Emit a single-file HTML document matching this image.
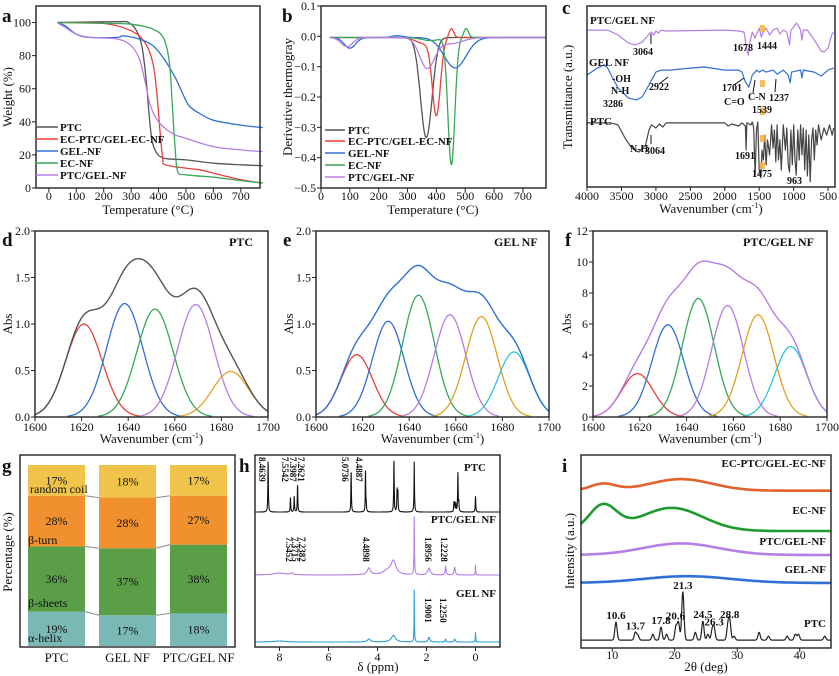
<!DOCTYPE html>
<html><head><meta charset="utf-8"><style>
html,body{margin:0;padding:0;background:#fff;}
svg{display:block;font-family:"Liberation Serif",serif;}
</style></head><body>
<svg id="fig" width="839" height="676" viewBox="0 0 839 676"></svg>
<script>
// ===== Panel a: TGA data
const tgaNames=['PTC','EC-PTC/GEL-EC-NF','GEL-NF','EC-NF','PTC/GEL-NF'];
const tgaColors=['#555555','#e8413c','#2f6fd6','#3aa65a','#b47ee5'];
const tgaTemp=[
 [30,250,290,320,340,355,365,375,390,420,500,600,700,780],
 [30,200,300,350,380,395,405,415,425,500,550,600,700,780],
 [30,60,100,150,250,270,330,380,420,460,480,510,550,600,700,780],
 [30,200,300,380,420,440,450,460,470,500,600,700,780],
 [30,60,100,150,250,300,330,350,370,400,450,500,600,700,780]];
const tgaWeight=[
 [100,100.5,100,95,85,65,45,30,22,18,17,15,14,13.5],
 [100,99.5,95,88,75,55,35,18,14,12,11,9,5,3],
 [100,98,93,91,91,92,90,86,78,67,60,50,45,41,38,36.5],
 [100,99.5,99,96,90,75,50,25,10,8,6.5,4.5,3],
 [100,97,93,91,90,86,78,65,50,40,33,30,25,23,22]];
const tgaXTicks=[0,100,200,300,400,500,600,700];
const tgaYTicks=[0,20,40,60,80,100];
// ===== Panel b: DTG peaks (center, amplitude, width)
const dtgCenters=[[365],[360,400,452],[100,265,465],[380,452,503],[90,368,450]];
const dtgAmps=[[-0.33],[-0.02,-0.25,0.03],[-0.035,0.006,-0.1],[-0.01,-0.42,0.03],[-0.03,-0.1,-0.02]];
const dtgWidths=[[20],[30,14,8],[20,20,38],[30,12,8],[20,26,40]];
const dtgYTicks=[0.1,0.0,-0.1,-0.2,-0.3,-0.4,-0.5];
const dtgYLabels=['0.1','0.0','−0.1','−0.2','−0.3','−0.4','−0.5'];
// ===== Panel c: FTIR
const ftirWave=[
 [4000,3700,3550,3400,3300,3200,3100,3064,3030,3000,2960,2930,2850,2000,1800,1720,1680,1660,1630,1600,1560,1540,1500,1470,1444,1400,1350,1300,1240,1200,1150,1100,1060,1040,1000,960,930,900,880,860,800,700,600,560,500,450,420],
 [4000,3850,3750,3700,3650,3550,3400,3286,3200,3100,3000,2922,2800,2500,2300,2000,1800,1750,1701,1650,1600,1560,1539,1500,1450,1400,1300,1237,1150,1080,1050,1030,900,880,860,700,600,500,420],
 [4000,3650,3550,3450,3350,3250,3150,3100,3064,3000,2950,2900,2850,2000,1950,1900,1800,1750,1700,1691,1680,1620,1600,1580,1560,1540,1520,1500,1475,1460,1440,1420,1400,1380,1350,1320,1300,1280,1260,1240,1220,1200,1180,1150,1120,1100,1080,1060,1040,1020,1000,980,963,940,920,900,880,860,840,820,800,780,760,740,720,700,680,660,640,600,560,520,480,440,420]];
const ftirT=[
 [86.7,86.7,84,79.6,78.5,80,84.5,85.6,84,86.2,85,86.7,86.2,86.7,86.2,85.6,75.7,72.9,81.2,85.6,82.3,84.5,87.8,82.9,85.6,87.8,84,86.7,87.8,84.5,86.7,85.6,78.5,86.7,88.4,90.6,89,86.7,81.2,86.7,86.7,81.2,75.1,74.6,76.8,84,85.6],
 [61.9,65.7,67.4,65.7,61.9,54.7,49.2,48.1,49.7,56.4,63.5,64.6,64.6,65.7,66.3,64.6,64.6,63.5,58,55.2,61.9,63.5,64.6,63.5,64.6,63.5,64.6,62.4,64.6,61.9,57.5,63.5,64.6,60.2,64.6,63.5,61.3,64.6,65.7],
 [35.4,35.4,34.3,27.1,21.5,19.3,23.2,31.5,34.3,32.6,34.8,33.1,35.4,35.4,33.7,34.8,33.7,35.4,33.7,20.4,35.4,34.3,35.9,32.6,6.1,31.5,35.9,9.4,5,20.4,14.9,28.7,12.2,26,17.7,34.3,21.5,31.5,13.8,34.3,14.9,26,9.4,34.3,20.4,32.6,12.2,8.3,31.5,12.2,34.3,14.9,6.6,31.5,14.9,34.3,17.7,32.6,9.4,31.5,6.1,28.7,2.8,26,32.6,14.9,31.5,23.2,34.3,26,32.6,28.7,34.3,28.7,32.6]];
const ftirColors=['#b47ee5','#2f6fd6','#444444'];
const ftirXTicks=[4000,3500,3000,2500,2000,1500,1000,500];
// ===== Panels d/e/f: deconvolution gaussians
const fitXTicks=[1600,1620,1640,1660,1680,1700];
const dCenters=[1621,1638.5,1651.5,1669,1684];
const dHeights=[1.0,1.22,1.16,1.21,0.49];
const dColors=['#e8413c','#2f6fd6','#3aa65a','#b47ee5','#e0a21e'];
const eCenters=[1617.5,1631,1644,1657.5,1671,1685];
const eHeights=[0.67,1.03,1.31,1.1,1.08,0.7];
const fCenters=[1619,1632,1645,1657.5,1670.5,1684.5];
const fHeights=[2.8,5.95,7.65,7.2,6.6,4.55];
const efColors=['#e8413c','#2f6fd6','#3aa65a','#b47ee5','#e0a21e','#2ec4d6'];
const dYTicks=[0,0.5,1.0,1.5,2.0];
const fYTicks=[0,2,4,6,8,10,12];
// ===== Panel g: secondary structure
const secCategories=['PTC','GEL NF','PTC/GEL NF'];
const secHelix=[19,17,18];
const secSheets=[36,37,38];
const secTurn=[28,28,27];
const secCoil=[17,18,17];
// ===== Panel h: NMR
const nmrPtcShift=[8.464,7.554,7.399,7.262,5.074,4.489,4.46,3.33,3.2,3.17,2.5,0.88,0.85,0.8,0.72,0.68,0];
const nmrPtcHeight=[26,7.5,8,14,21,21,3,27,11,10,26,4.5,4.5,4,20,5,8];
const nmrMixShift=[8.0,7.5,4.35,3.6,3.35,2.5,1.9,1.22,0.85,0];
const nmrMixHeight=[1,1,3.5,2,7,30,3.5,4.5,4,5];
const nmrMixWidth=[0.3,0.05,0.08,0.2,0.12,0.012,0.06,0.02,0.03,0.01];
const nmrGelShift=[8.0,4.35,3.35,2.5,1.9,1.22,0.85,0];
const nmrGelHeight=[0.5,1.5,3.5,27,2.5,1.5,1.5,5];
const nmrGelWidth=[0.3,0.08,0.1,0.01,0.04,0.02,0.03,0.01];
const nmrXTicks=[8,6,4,2,0];
// ===== Panel i: XRD
const xrdPtcPeaks=[10.6,13.7,14.1,16.5,17.8,18.7,20.2,20.6,21.3,23.3,24.5,25.3,26.0,26.3,28.5,28.8,29.5,33.5,35,38,39.3,39.8,44];
const xrdPtcHeights=[9.3,4,2.5,3,6.7,3,7,9,25,4,9.8,3,5,6,7,9.8,2,4,2,2,3,3,2];
const xrdBase=[81.5,60.6,48.2,33.7];
const xrdHumpCenters=[[8.5,21],[8.5,19.5],[21],[22]];
const xrdHumpHeights=[[3.5,6],[13,12],[6],[3.5]];
const xrdHumpWidths=[[2,5],[2.2,5],[6],[7]];
const xrdColors=['#e2622c','#1e9a2c','#b47ee5','#2f6fd6'];
const xrdXTicks=[10,20,30,40];

const NS='http://www.w3.org/2000/svg';
const svg=document.getElementById('fig');
function el(tag,attrs,parent){const e=document.createElementNS(NS,tag);for(const k in attrs)e.setAttribute(k,attrs[k]);(parent||svg).appendChild(e);return e;}
function txt(x,y,s,size,anchor,weight,parent){const t=el('text',{x:x,y:y,'font-size':size,'text-anchor':anchor||'start','font-weight':weight||'normal',fill:'#111'},parent);t.textContent=s;return t;}
function lin(d0,d1,r0,r1){return v=>r0+(v-d0)/(d1-d0)*(r1-r0);}
function smooth(pts){let d='M'+pts[0][0].toFixed(1)+','+pts[0][1].toFixed(1);for(let i=0;i<pts.length-1;i++){const p0=pts[i-1]||pts[i],p1=pts[i],p2=pts[i+1],p3=pts[i+2]||p2;d+=' C'+(p1[0]+(p2[0]-p0[0])/6).toFixed(1)+','+(p1[1]+(p2[1]-p0[1])/6).toFixed(1)+' '+(p2[0]-(p3[0]-p1[0])/6).toFixed(1)+','+(p2[1]-(p3[1]-p1[1])/6).toFixed(1)+' '+p2[0].toFixed(1)+','+p2[1].toFixed(1);}return d;}
function poly(pts){return 'M'+pts.map(p=>p[0].toFixed(1)+','+p[1].toFixed(1)).join(' L');}
function gauss(x,c,h,s){return h*Math.exp(-(x-c)*(x-c)/(2*s*s));}
function lor(x,c,h,w){return h/(1+((x-c)/w)*((x-c)/w));}
function frame(P,name){const r=el('rect',{x:P.L,y:P.T,width:P.R-P.L,height:P.B-P.T,fill:'none',stroke:'#222','stroke-width':1.4});}
function xticks(P,vals,sx,labels,ly){vals.forEach((v,i)=>{const x=sx(v);el('line',{x1:x,x2:x,y1:P.B,y2:P.B+4,stroke:'#222'});const t=txt(x,ly,labels?labels[i]:String(v),12,'middle');});}
function yticks(P,vals,sy,labels){vals.forEach((v,i)=>{const y=sy(v);el('line',{x1:P.L-4,x2:P.L,y1:y,y2:y,stroke:'#222'});const t=txt(P.L-5,y+4,labels?labels[i]:String(v),12,'end');});}
function ytitle(x,y,s){const t=txt(x,y,s,13,'middle');t.setAttribute('transform','rotate(-90 '+x+' '+y+')');return t;}
function xtitle(x,y,s){const t=txt(x,y,s,13,'middle');return t;}
function wnTitle(x,y){const t=xtitle(x,y,'Wavenumber (cm');const s=el('tspan',{dy:-5,'font-size':8},t);s.textContent='-1';const s2=el('tspan',{dy:5},t);s2.textContent=')';}
function letter(x,y,s){const t=txt(x,y,s,19,'start','bold');}
function curve(d,color,w,name){const p=el('path',{d:d,fill:'none',stroke:color,'stroke-width':w||1.3,'stroke-linejoin':'round'});return p;}

// ===== Panel a
const A={L:36,R:260,T:6,B:188};
const ax=lin(-47,770,A.L,A.R), ay=lin(0,110,A.B,A.T);
letter(2,22,'a');
tgaNames.forEach((n,i)=>{curve(smooth(tgaTemp[i].map((t,j)=>[ax(t),ay(tgaWeight[i][j])])),tgaColors[i],1.3,'tga-curve-'+n);});
frame(A,'tga-plot-area');
xticks(A,tgaXTicks,ax,null,200);yticks(A,tgaYTicks,ay);
ytitle(12,97,'Weight (%)');xtitle(148,214,'Temperature (°C)');
[131,143,155,167,179].forEach((y,i)=>{el('line',{x1:36,x2:58,y1:y-4,y2:y-4,stroke:tgaColors[i],'stroke-width':1.5});const t=txt(60,y,tgaNames[i],11,'start','bold');});

// ===== Panel b
const B={L:321,R:546,T:6,B:188};
const bx=lin(0,780,B.L,B.R), by=lin(-0.5,0.1,B.B,B.T);
letter(282,22,'b');
tgaNames.forEach((n,i)=>{const pts=[];for(let t=30;t<=780;t+=3){let v=-0.004;dtgCenters[i].forEach((c,k)=>{v+=gauss(t,c,dtgAmps[i][k],dtgWidths[i][k]);});pts.push([bx(t),by(v)]);}curve(poly(pts),tgaColors[i],1.3,'dtg-curve-'+n);});
frame(B,'dtg-plot-area');
xticks(B,tgaXTicks,bx,null,200);yticks(B,dtgYTicks,by,dtgYLabels);
ytitle(292,97,'Derivative thermogray');xtitle(433,214,'Temperature (°C)');
[134,145,157,169,181].forEach((y,i)=>{el('line',{x1:325,x2:345,y1:y-4,y2:y-4,stroke:tgaColors[i],'stroke-width':1.5});const t=txt(348,y,tgaNames[i],11,'start','bold');});

// ===== Panel c
const C={L:587,R:835,T:6,B:187};
const cx=lin(4000,400,C.L,C.R), cy=lin(0,100,C.B,C.T);
letter(562,14,'c');
['ptc-gel-nf','gel-nf','ptc'].forEach((n,i)=>{curve(poly(ftirWave[i].map((w,j)=>[cx(w),cy(ftirT[i][j])])),ftirColors[i],1.2,'ftir-curve-'+n);});
[25,80,108,135,162].forEach(y=>{el('rect',{x:cx(1460)-2,y:y,width:5,height:7,fill:'#f5b041',opacity:0.85});});
frame(C,'ftir-plot-area');
xticks(C,ftirXTicks,cx,null,200);
ytitle(572,97,'Transmittance (a.u.)');wnTitle(711,213);
[[590,24,'PTC/GEL NF',11],[589,66,'GEL NF',11],[590,125,'PTC',11],[633,55,'3064',10],[733,51,'1678',10],[757,49,'1444',10],[612,82,'-OH',10],[611,94,'N-H',10],[603,107,'3286',10],[649,90,'2922',10],[722,91,'1701',10],[724,105,'C=O',10],[748,100,'C-N',10],[752,113,'1539',10],[769,101,'1237',10],[630,152,'N-H',10],[645,154,'3064',10],[735,159,'1691',10],[752,177,'1475',10],[787,184,'963',10]].forEach(a=>{const t=txt(a[0],a[1],a[2],a[3],'start','bold');});
[[651,44,651,34],[659,84,668,77],[734,85,744,78],[753,93,755,80],[775,92,776,79],[651,144,651,135]].forEach(l=>{el('line',{x1:l[0],y1:l[1],x2:l[2],y2:l[3],stroke:'#111','stroke-width':1});});

// ===== Panels d/e/f
function fitPanel(P,centers,heights,colors,sumColor,ymax,yt,tag,label,lx,sigma){
 const sx=lin(1600,1700,P.L,P.R), sy=lin(0,ymax,P.B,P.T);
 centers.forEach((c,k)=>{const pts=[];for(let x=1600;x<=1700;x+=0.5){const v=gauss(x,c,heights[k],sigma);if(v>0.004*ymax||Math.abs(x-c)<3*sigma)pts.push([sx(x),sy(v)]);}curve(poly(pts),colors[k],1.3,tag+'-component-'+k);});
 const pts=[];for(let x=1600;x<=1700;x+=0.5){let v=0;centers.forEach((c,k)=>{v+=gauss(x,c,heights[k],sigma);});pts.push([sx(x),sy(v)]);}
 curve(poly(pts),sumColor,1.4,tag+'-sum-curve');
 frame(P,tag+'-plot-area');xticks(P,fitXTicks,sx,null,431);yticks(P,yt,sy,yt.map(v=>ymax<5?v.toFixed(1):String(v)));
 const t=txt(lx,246,label,12,'start','bold');
 wnTitle((P.L+P.R)/2,443);
}
const D={L:35,R:268,T:231,B:417},E={L:316,R:549,T:231,B:417},F={L:593,R:827,T:231,B:417};
letter(2,246,'d');letter(283,246,'e');letter(565,246,'f');
fitPanel(D,dCenters,dHeights,dColors,'#555555',2,dYTicks,'fit-ptc','PTC',229,7.8);
fitPanel(E,eCenters,eHeights,efColors,'#2f6fd6',2,dYTicks,'fit-gel','GEL NF',494,6.8);
fitPanel(F,fCenters,fHeights,efColors,'#b47ee5',12,fYTicks,'fit-ptcgel','PTC/GEL NF',743,6.8);
ytitle(12,324,'Abs');ytitle(293,324,'Abs');ytitle(571,324,'Abs');

// ===== Panel g
const G={L:20,R:235,T:455,B:647};
letter(2,472,'g');
frame(G,'secondary-structure-plot-area');
const gy=lin(0,100,646,465);
const barX=[28,99,170], barW=57;
const segColors=['#79b8b5','#5a9e48','#f0902e','#f0c44a'];
const segs=[secHelix,secSheets,secTurn,secCoil];
const bounds=[];
secCategories.forEach((cat,i)=>{let acc=0;const b=[];segs.forEach((arr,k)=>{const y0=gy(acc),y1=gy(acc+arr[i]);const r=el('rect',{x:barX[i],y:y1,width:barW,height:y0-y1,fill:segColors[k]});const t=txt(barX[i]+barW/2,(y0+y1)/2+4,arr[i]+'%',12,'middle');acc+=arr[i];b.push(y1);});bounds.push(b);
 const lt=txt(barX[i]+barW/2,662,cat,13,'middle');});
for(let i=0;i<2;i++){for(let k=0;k<3;k++){el('line',{x1:barX[i]+barW,y1:bounds[i][k],x2:barX[i+1],y2:bounds[i+1][k],stroke:'#888','stroke-width':1});}}
[[30,493,'random coil'],[28,544,'β-turn'],[28,607,'β-sheets'],[28,642,'α-helix']].forEach(a=>{const t=txt(a[0],a[1],a[2],12,'start');});
ytitle(12,552,'Percentage (%)');

// ===== Panel h
const H={L:255,R:500,T:455,B:647};
const hx=lin(9,-1,H.L,H.R), hy=lin(0,100,H.B,H.T);
letter(239,472,'h');
function nmr(base,sh,hts,wds,color,name){const pts=[];for(let x=9;x>=-1;x-=0.004){let v=base;sh.forEach((c,k)=>{v+=lor(x,c,hts[k],wds?wds[k]:0.012);});pts.push([hx(x),hy(v)]);}curve(poly(pts),color,1.1,name);}
nmr(70.3,nmrPtcShift,nmrPtcHeight,null,'#111','nmr-ptc');
nmr(37.5,nmrMixShift,nmrMixHeight,nmrMixWidth,'#b47ee5','nmr-ptc-gel-nf');
nmr(2.6,nmrGelShift,nmrGelHeight,nmrGelWidth,'#2aa0d8','nmr-gel-nf');
frame(H,'nmr-plot-area');xticks(H,nmrXTicks,hx,null,661);xtitle(378,671,'δ (ppm)');
[[259,457,'8.4639'],[282,457,'7.5542'],[290,457,'7.3987'],[298,457,'7.2621'],[342,457,'5.0736'],[356,457,'4.4887'],[286,537,'7.5452'],[292,537,'7.3715'],[299,537,'7.2382'],[363,537,'4.4898'],[425,537,'1.8956'],[441,537,'1.2228'],[425,598,'1.9001'],[440,598,'1.2250']].forEach(a=>{const t=txt(a[0],a[1],a[2],9,'start','bold');t.setAttribute('transform','rotate(90 '+a[0]+' '+a[1]+')');});
[[486,471,'PTC'],[496,523,'PTC/GEL NF'],[496,597,'GEL NF']].forEach(a=>{const t=txt(a[0],a[1],a[2],11,'end','bold');});

// ===== Panel i
const I={L:581,R:831,T:455,B:648};
const ix=lin(5,45,I.L,I.R), iy=lin(0,100,I.B,I.T);
letter(562,472,'i');
['ec-ptc-gel-ec-nf','ec-nf','ptc-gel-nf','gel-nf'].forEach((n,i)=>{const pts=[];for(let x=5;x<=45;x+=0.25){let v=xrdBase[i];xrdHumpCenters[i].forEach((c,k)=>{v+=gauss(x,c,xrdHumpHeights[i][k],xrdHumpWidths[i][k]);});pts.push([ix(x),iy(v)]);}curve(poly(pts),xrdColors[i],2.6,'xrd-curve-'+n);});
{const pts=[];for(let x=5;x<=45;x+=0.04){let v=4.1;xrdPtcPeaks.forEach((c,k)=>{v+=gauss(x,c,xrdPtcHeights[k],0.18);});pts.push([ix(x),iy(v)]);}curve(poly(pts),'#222',1.2,'xrd-curve-ptc');}
frame(I,'xrd-plot-area');xticks(I,xrdXTicks,ix,null,659);xtitle(706,671,'2θ (deg)');ytitle(574,551,'Intensity (a.u.)');
[[826,467,'EC-PTC/GEL-EC-NF'],[826,514,'EC-NF'],[826,545,'PTC/GEL-NF'],[826,573,'GEL-NF'],[826,627,'PTC']].forEach(a=>{const t=txt(a[0],a[1],a[2],11,'end','bold');});
[[10.6,'10.6'],[13.7,'13.7'],[17.8,'17.8'],[20.6,'20.6'],[21.3,'21.3'],[24.5,'24.5'],[26.3,'26.3'],[28.8,'28.8']].forEach((a,k)=>{const h=xrdPtcHeights[xrdPtcPeaks.indexOf(a[0])];const t=txt(ix(a[0])+(a[0]===20.6?-3:0),iy(4.1+h)-3,a[1],11,'middle','bold');});
</script>
</body></html>
